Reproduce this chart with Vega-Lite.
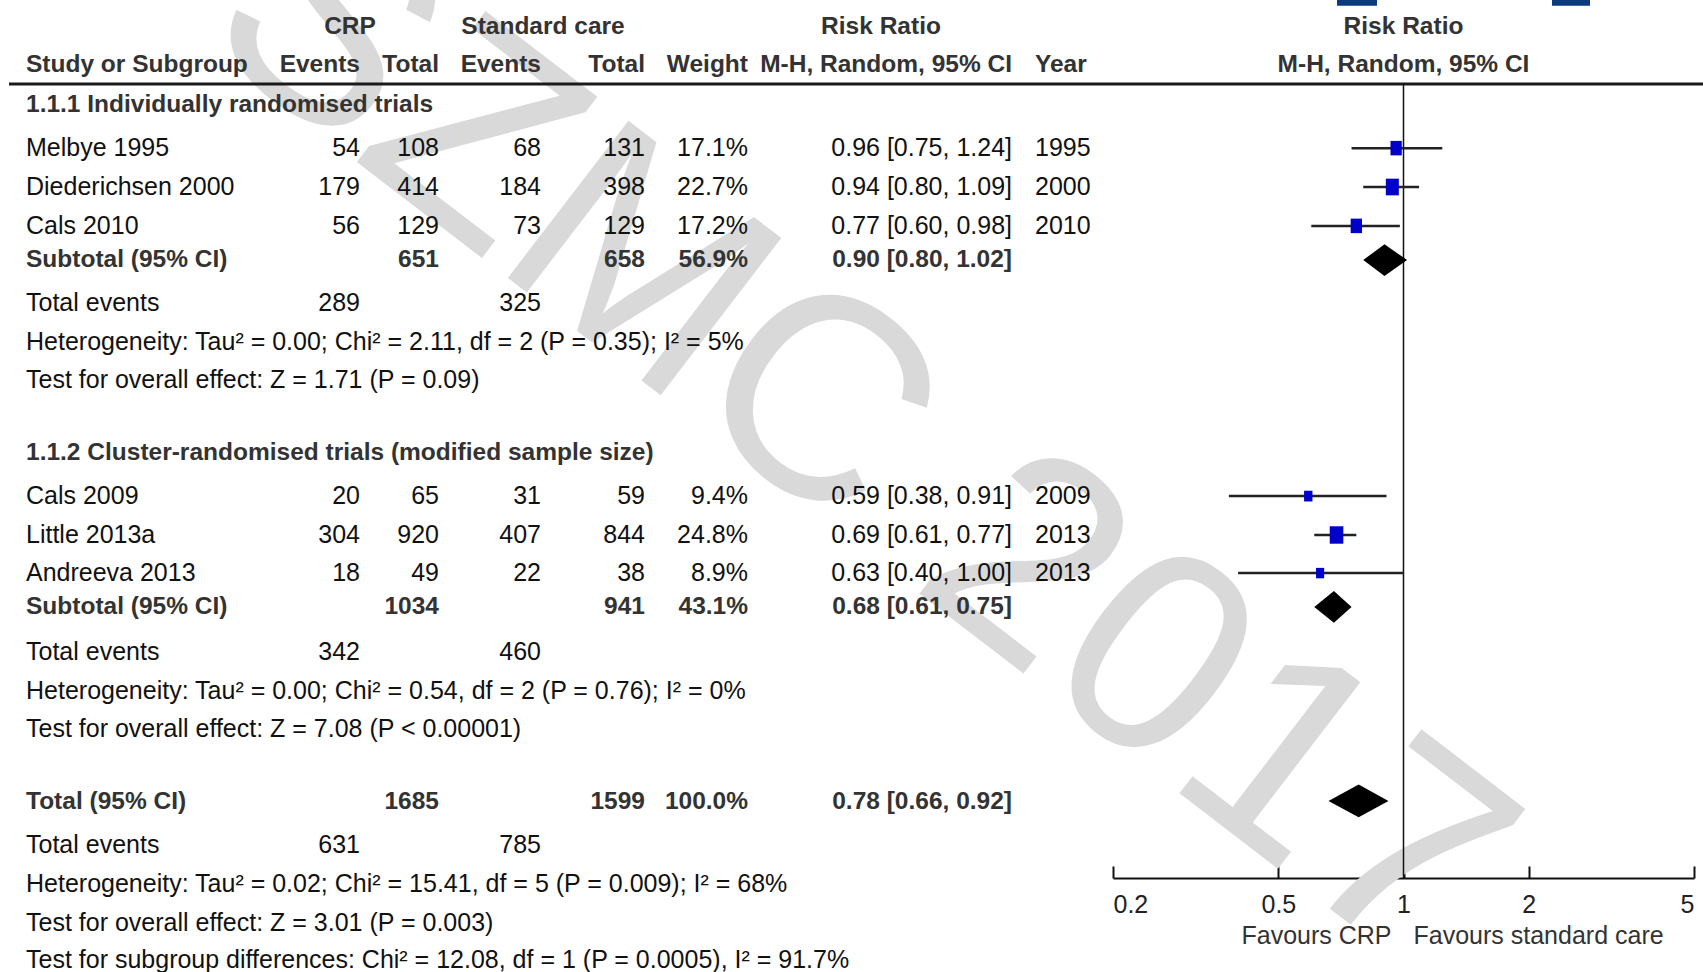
{
  "$schema": "https://vega.github.io/schema/vega-lite/v6.json",
  "width": 1703,
  "height": 972,
  "padding": 0,
  "autosize": {"type": "none"},
  "background": "white",
  "config": {
    "view": {"stroke": null},
    "font": "Liberation Sans, Arial, sans-serif"
  },
  "datasets": {
    "rows": [
      {"row": 1.67, "kind": "header", "label": "Study or Subgroup", "e1": "Events", "n1": "Total", "e2": "Events", "n2": "Total", "w": "Weight", "rrtxt": "M-H, Random, 95% CI", "year": "Year"},
      {"row": 2.70, "kind": "group", "label": "1.1.1 Individually randomised trials"},
      {"row": 3.81, "kind": "study", "label": "Melbye 1995", "e1": "54", "n1": "108", "e2": "68", "n2": "131", "w": "17.1%", "rrtxt": "0.96 [0.75, 1.24]", "year": "1995", "rr": 0.96, "lo": 0.75, "hi": 1.24, "weight": 17.1},
      {"row": 4.81, "kind": "study", "label": "Diederichsen 2000", "e1": "179", "n1": "414", "e2": "184", "n2": "398", "w": "22.7%", "rrtxt": "0.94 [0.80, 1.09]", "year": "2000", "rr": 0.94, "lo": 0.80, "hi": 1.09, "weight": 22.7},
      {"row": 5.81, "kind": "study", "label": "Cals 2010", "e1": "56", "n1": "129", "e2": "73", "n2": "129", "w": "17.2%", "rrtxt": "0.77 [0.60, 0.98]", "year": "2010", "rr": 0.77, "lo": 0.60, "hi": 0.98, "weight": 17.2},
      {"row": 6.69, "kind": "subtotal", "label": "Subtotal (95% CI)", "n1": "651", "n2": "658", "w": "56.9%", "rrtxt": "0.90 [0.80, 1.02]"},
      {"row": 7.79, "kind": "events", "label": "Total events", "e1": "289", "e2": "325"},
      {"row": 8.80, "kind": "stat", "label": "Heterogeneity: Tau² = 0.00; Chi² = 2.11, df = 2 (P = 0.35); I² = 5%"},
      {"row": 9.77, "kind": "stat", "label": "Test for overall effect: Z = 1.71 (P = 0.09)"},
      {"row": 11.65, "kind": "group", "label": "1.1.2 Cluster-randomised trials (modified sample size)"},
      {"row": 12.76, "kind": "study", "label": "Cals 2009", "e1": "20", "n1": "65", "e2": "31", "n2": "59", "w": "9.4%", "rrtxt": "0.59 [0.38, 0.91]", "year": "2009", "rr": 0.59, "lo": 0.38, "hi": 0.91, "weight": 9.4},
      {"row": 13.76, "kind": "study", "label": "Little 2013a", "e1": "304", "n1": "920", "e2": "407", "n2": "844", "w": "24.8%", "rrtxt": "0.69 [0.61, 0.77]", "year": "2013", "rr": 0.69, "lo": 0.61, "hi": 0.77, "weight": 24.8},
      {"row": 14.74, "kind": "study", "label": "Andreeva 2013", "e1": "18", "n1": "49", "e2": "22", "n2": "38", "w": "8.9%", "rrtxt": "0.63 [0.40, 1.00]", "year": "2013", "rr": 0.63, "lo": 0.40, "hi": 1.00, "weight": 8.9},
      {"row": 15.61, "kind": "subtotal", "label": "Subtotal (95% CI)", "n1": "1034", "n2": "941", "w": "43.1%", "rrtxt": "0.68 [0.61, 0.75]"},
      {"row": 16.77, "kind": "events", "label": "Total events", "e1": "342", "e2": "460"},
      {"row": 17.77, "kind": "stat", "label": "Heterogeneity: Tau² = 0.00; Chi² = 0.54, df = 2 (P = 0.76); I² = 0%"},
      {"row": 18.75, "kind": "stat", "label": "Test for overall effect: Z = 7.08 (P < 0.00001)"},
      {"row": 20.63, "kind": "total", "label": "Total (95% CI)", "n1": "1685", "n2": "1599", "w": "100.0%", "rrtxt": "0.78 [0.66, 0.92]"},
      {"row": 21.73, "kind": "events", "label": "Total events", "e1": "631", "e2": "785"},
      {"row": 22.74, "kind": "stat", "label": "Heterogeneity: Tau² = 0.02; Chi² = 15.41, df = 5 (P = 0.009); I² = 68%"},
      {"row": 23.74, "kind": "stat", "label": "Test for overall effect: Z = 3.01 (P = 0.003)"},
      {"row": 24.69, "kind": "stat", "label": "Test for subgroup differences: Chi² = 12.08, df = 1 (P = 0.0005), I² = 91.7%"}
    ],
    "diamonds": [
      {"id": "sub1", "rr": 0.80, "top": 6.69, "bottom": 6.69},
      {"id": "sub1", "rr": 0.90, "top": 6.28, "bottom": 7.10},
      {"id": "sub1", "rr": 1.02, "top": 6.69, "bottom": 6.69},
      {"id": "sub2", "rr": 0.61, "top": 15.61, "bottom": 15.61},
      {"id": "sub2", "rr": 0.68, "top": 15.20, "bottom": 16.02},
      {"id": "sub2", "rr": 0.75, "top": 15.61, "bottom": 15.61},
      {"id": "total", "rr": 0.66, "top": 20.60, "bottom": 20.60},
      {"id": "total", "rr": 0.78, "top": 20.18, "bottom": 21.02},
      {"id": "total", "rr": 0.92, "top": 20.60, "bottom": 20.60}
    ],
    "spans": [
      {"grp": "crp", "text": "CRP"},
      {"grp": "std", "text": "Standard care"},
      {"grp": "rr", "text": "Risk Ratio"}
    ],
    "plothdr": [
      {"row": 0.69, "text": "Risk Ratio"},
      {"row": 1.67, "text": "M-H, Random, 95% CI"}
    ],
    "favours": [
      {"side": "left", "text": "Favours CRP"},
      {"side": "right", "text": "Favours standard care"}
    ],
    "watermark": [
      {"text": "SZMC 2017"}
    ],
    "one": [{}]
  },
  "resolve": {"scale": {"x": "independent"}, "axis": {"x": "independent"}},
  "layer": [
    {
      "data": {"name": "watermark"},
      "mark": {"type": "text", "align": "center", "baseline": "middle", "angle": 37.5, "fontSize": 288, "font": "Liberation Sans, Arial, sans-serif", "fill": "#d9d9d9"},
      "encoding": {
        "x": {"datum": 859, "type": "quantitative", "scale": {"domain": [0, 1703], "range": [0, 1703], "nice": false, "zero": false}, "axis": null},
        "y": {"datum": 11.29, "type": "quantitative", "scale": {"domain": [0, 25], "reverse": true, "nice": false, "zero": false}, "axis": null},
        "text": {"field": "text", "type": "nominal"}
      }
    },
    {
      "data": {"name": "one"},
      "mark": {"type": "rule", "color": "#1a1a1a", "strokeWidth": 3},
      "encoding": {
        "x": {"datum": 9, "type": "quantitative", "scale": {"domain": [0, 1703], "range": [0, 1703], "nice": false, "zero": false}, "axis": null},
        "x2": {"datum": 1703},
        "y": {"datum": 2.16, "type": "quantitative", "scale": {"domain": [0, 25], "reverse": true, "nice": false, "zero": false}, "axis": null}
      }
    },
    {
      "data": {"name": "one"},
      "mark": {"type": "rect", "color": "#0b3a7e"},
      "encoding": {
        "x": {"datum": 1337, "type": "quantitative", "scale": {"domain": [0, 1703], "range": [0, 1703], "nice": false, "zero": false}, "axis": null},
        "x2": {"datum": 1377},
        "y": {"datum": 0, "type": "quantitative", "scale": {"domain": [0, 25], "reverse": true, "nice": false, "zero": false}, "axis": null},
        "y2": {"datum": 0.15}
      }
    },
    {
      "data": {"name": "one"},
      "mark": {"type": "rect", "color": "#0b3a7e"},
      "encoding": {
        "x": {"datum": 1552, "type": "quantitative", "scale": {"domain": [0, 1703], "range": [0, 1703], "nice": false, "zero": false}, "axis": null},
        "x2": {"datum": 1590},
        "y": {"datum": 0, "type": "quantitative", "scale": {"domain": [0, 25], "reverse": true, "nice": false, "zero": false}, "axis": null},
        "y2": {"datum": 0.15}
      }
    },
    {
      "data": {"name": "spans"},
      "transform": [{"filter": "datum.grp === 'crp'"}],
      "mark": {"type": "text", "align": "center", "baseline": "middle", "fontSize": 24.5, "fontWeight": "bold", "fill": "#333"},
      "encoding": {
        "x": {"datum": 350, "type": "quantitative", "scale": {"domain": [0, 1703], "range": [0, 1703], "nice": false, "zero": false}, "axis": null},
        "y": {"datum": 0.69, "type": "quantitative", "scale": {"domain": [0, 25], "reverse": true, "nice": false, "zero": false}, "axis": null},
        "text": {"field": "text", "type": "nominal"}
      }
    },
    {
      "data": {"name": "spans"},
      "transform": [{"filter": "datum.grp === 'std'"}],
      "mark": {"type": "text", "align": "center", "baseline": "middle", "fontSize": 24.5, "fontWeight": "bold", "fill": "#333"},
      "encoding": {
        "x": {"datum": 543, "type": "quantitative", "scale": {"domain": [0, 1703], "range": [0, 1703], "nice": false, "zero": false}, "axis": null},
        "y": {"datum": 0.69, "type": "quantitative", "scale": {"domain": [0, 25], "reverse": true, "nice": false, "zero": false}, "axis": null},
        "text": {"field": "text", "type": "nominal"}
      }
    },
    {
      "data": {"name": "spans"},
      "transform": [{"filter": "datum.grp === 'rr'"}],
      "mark": {"type": "text", "align": "center", "baseline": "middle", "fontSize": 24.5, "fontWeight": "bold", "fill": "#333"},
      "encoding": {
        "x": {"datum": 881, "type": "quantitative", "scale": {"domain": [0, 1703], "range": [0, 1703], "nice": false, "zero": false}, "axis": null},
        "y": {"datum": 0.69, "type": "quantitative", "scale": {"domain": [0, 25], "reverse": true, "nice": false, "zero": false}, "axis": null},
        "text": {"field": "text", "type": "nominal"}
      }
    },
    {
      "data": {"name": "rows"},
      "mark": {"type": "text", "align": "left", "baseline": "middle",
        "fontSize": {"expr": "indexof(['header','group','subtotal','total'], datum.kind) >= 0 ? 24.5 : 25"},
        "fontWeight": {"expr": "indexof(['header','group','subtotal','total'], datum.kind) >= 0 ? 'bold' : 'normal'"},
        "fill": {"expr": "indexof(['header','group','subtotal','total'], datum.kind) >= 0 ? '#333' : '#111'"}},
      "encoding": {
        "x": {"datum": 26, "type": "quantitative", "scale": {"domain": [0, 1703], "range": [0, 1703], "nice": false, "zero": false}, "axis": null},
        "y": {"field": "row", "type": "quantitative", "scale": {"domain": [0, 25], "reverse": true, "nice": false, "zero": false}, "axis": null},
        "text": {"field": "label", "type": "nominal"}
      }
    },
    {
      "data": {"name": "rows"},
      "transform": [{"filter": "isValid(datum.e1)"}],
      "mark": {"type": "text", "align": "right", "baseline": "middle",
        "fontSize": {"expr": "indexof(['header','group','subtotal','total'], datum.kind) >= 0 ? 24.5 : 25"},
        "fontWeight": {"expr": "indexof(['header','group','subtotal','total'], datum.kind) >= 0 ? 'bold' : 'normal'"},
        "fill": {"expr": "indexof(['header','group','subtotal','total'], datum.kind) >= 0 ? '#333' : '#111'"}},
      "encoding": {
        "x": {"datum": 360, "type": "quantitative", "scale": {"domain": [0, 1703], "range": [0, 1703], "nice": false, "zero": false}, "axis": null},
        "y": {"field": "row", "type": "quantitative", "scale": {"domain": [0, 25], "reverse": true, "nice": false, "zero": false}, "axis": null},
        "text": {"field": "e1", "type": "nominal"}
      }
    },
    {
      "data": {"name": "rows"},
      "transform": [{"filter": "isValid(datum.n1)"}],
      "mark": {"type": "text", "align": "right", "baseline": "middle",
        "fontSize": {"expr": "indexof(['header','group','subtotal','total'], datum.kind) >= 0 ? 24.5 : 25"},
        "fontWeight": {"expr": "indexof(['header','group','subtotal','total'], datum.kind) >= 0 ? 'bold' : 'normal'"},
        "fill": {"expr": "indexof(['header','group','subtotal','total'], datum.kind) >= 0 ? '#333' : '#111'"}},
      "encoding": {
        "x": {"datum": 439, "type": "quantitative", "scale": {"domain": [0, 1703], "range": [0, 1703], "nice": false, "zero": false}, "axis": null},
        "y": {"field": "row", "type": "quantitative", "scale": {"domain": [0, 25], "reverse": true, "nice": false, "zero": false}, "axis": null},
        "text": {"field": "n1", "type": "nominal"}
      }
    },
    {
      "data": {"name": "rows"},
      "transform": [{"filter": "isValid(datum.e2)"}],
      "mark": {"type": "text", "align": "right", "baseline": "middle",
        "fontSize": {"expr": "indexof(['header','group','subtotal','total'], datum.kind) >= 0 ? 24.5 : 25"},
        "fontWeight": {"expr": "indexof(['header','group','subtotal','total'], datum.kind) >= 0 ? 'bold' : 'normal'"},
        "fill": {"expr": "indexof(['header','group','subtotal','total'], datum.kind) >= 0 ? '#333' : '#111'"}},
      "encoding": {
        "x": {"datum": 541, "type": "quantitative", "scale": {"domain": [0, 1703], "range": [0, 1703], "nice": false, "zero": false}, "axis": null},
        "y": {"field": "row", "type": "quantitative", "scale": {"domain": [0, 25], "reverse": true, "nice": false, "zero": false}, "axis": null},
        "text": {"field": "e2", "type": "nominal"}
      }
    },
    {
      "data": {"name": "rows"},
      "transform": [{"filter": "isValid(datum.n2)"}],
      "mark": {"type": "text", "align": "right", "baseline": "middle",
        "fontSize": {"expr": "indexof(['header','group','subtotal','total'], datum.kind) >= 0 ? 24.5 : 25"},
        "fontWeight": {"expr": "indexof(['header','group','subtotal','total'], datum.kind) >= 0 ? 'bold' : 'normal'"},
        "fill": {"expr": "indexof(['header','group','subtotal','total'], datum.kind) >= 0 ? '#333' : '#111'"}},
      "encoding": {
        "x": {"datum": 645, "type": "quantitative", "scale": {"domain": [0, 1703], "range": [0, 1703], "nice": false, "zero": false}, "axis": null},
        "y": {"field": "row", "type": "quantitative", "scale": {"domain": [0, 25], "reverse": true, "nice": false, "zero": false}, "axis": null},
        "text": {"field": "n2", "type": "nominal"}
      }
    },
    {
      "data": {"name": "rows"},
      "transform": [{"filter": "isValid(datum.w)"}],
      "mark": {"type": "text", "align": "right", "baseline": "middle",
        "fontSize": {"expr": "indexof(['header','group','subtotal','total'], datum.kind) >= 0 ? 24.5 : 25"},
        "fontWeight": {"expr": "indexof(['header','group','subtotal','total'], datum.kind) >= 0 ? 'bold' : 'normal'"},
        "fill": {"expr": "indexof(['header','group','subtotal','total'], datum.kind) >= 0 ? '#333' : '#111'"}},
      "encoding": {
        "x": {"datum": 748, "type": "quantitative", "scale": {"domain": [0, 1703], "range": [0, 1703], "nice": false, "zero": false}, "axis": null},
        "y": {"field": "row", "type": "quantitative", "scale": {"domain": [0, 25], "reverse": true, "nice": false, "zero": false}, "axis": null},
        "text": {"field": "w", "type": "nominal"}
      }
    },
    {
      "data": {"name": "rows"},
      "transform": [{"filter": "isValid(datum.rrtxt)"}],
      "mark": {"type": "text", "align": "right", "baseline": "middle",
        "fontSize": {"expr": "indexof(['header','group','subtotal','total'], datum.kind) >= 0 ? 24.5 : 25"},
        "fontWeight": {"expr": "indexof(['header','group','subtotal','total'], datum.kind) >= 0 ? 'bold' : 'normal'"},
        "fill": {"expr": "indexof(['header','group','subtotal','total'], datum.kind) >= 0 ? '#333' : '#111'"}},
      "encoding": {
        "x": {"datum": 1012, "type": "quantitative", "scale": {"domain": [0, 1703], "range": [0, 1703], "nice": false, "zero": false}, "axis": null},
        "y": {"field": "row", "type": "quantitative", "scale": {"domain": [0, 25], "reverse": true, "nice": false, "zero": false}, "axis": null},
        "text": {"field": "rrtxt", "type": "nominal"}
      }
    },
    {
      "data": {"name": "rows"},
      "transform": [{"filter": "isValid(datum.year)"}],
      "mark": {"type": "text", "align": "left", "baseline": "middle",
        "fontSize": {"expr": "indexof(['header','group','subtotal','total'], datum.kind) >= 0 ? 24.5 : 25"},
        "fontWeight": {"expr": "indexof(['header','group','subtotal','total'], datum.kind) >= 0 ? 'bold' : 'normal'"},
        "fill": {"expr": "indexof(['header','group','subtotal','total'], datum.kind) >= 0 ? '#333' : '#111'"}},
      "encoding": {
        "x": {"datum": 1035, "type": "quantitative", "scale": {"domain": [0, 1703], "range": [0, 1703], "nice": false, "zero": false}, "axis": null},
        "y": {"field": "row", "type": "quantitative", "scale": {"domain": [0, 25], "reverse": true, "nice": false, "zero": false}, "axis": null},
        "text": {"field": "year", "type": "nominal"}
      }
    },
    {
      "data": {"name": "one"},
      "mark": {"type": "rule", "color": "#111", "strokeWidth": 1.5},
      "encoding": {
        "x": {"datum": 1, "type": "quantitative", "scale": {"type": "log", "domain": [0.2, 5], "range": [1113, 1694], "nice": false}, "axis": null},
        "y": {"datum": 2.16, "type": "quantitative", "scale": {"domain": [0, 25], "reverse": true, "nice": false, "zero": false}, "axis": null},
        "y2": {"datum": 22.58}
      }
    },
    {
      "data": {"name": "rows"},
      "transform": [{"filter": "isValid(datum.lo)"}],
      "mark": {"type": "rule", "color": "#222", "strokeWidth": 2.5},
      "encoding": {
        "x": {"field": "lo", "type": "quantitative", "scale": {"type": "log", "domain": [0.2, 5], "range": [1113, 1694], "nice": false},
          "axis": {"orient": "bottom", "offset": -94, "values": [0.2, 0.5, 1, 2, 5], "format": "~g", "title": null, "grid": false,
            "labelFlush": true, "labelFontSize": 25, "labelColor": "#222", "labelPadding": 26, "labelFont": "Liberation Sans, Arial, sans-serif",
            "tickSize": -12, "tickColor": "#111", "tickWidth": 2, "domainColor": "#111", "domainWidth": 2}},
        "x2": {"field": "hi"},
        "y": {"field": "row", "type": "quantitative", "scale": {"domain": [0, 25], "reverse": true, "nice": false, "zero": false}, "axis": null}
      }
    },
    {
      "data": {"name": "rows"},
      "transform": [{"filter": "isValid(datum.rr)"}],
      "mark": {"type": "point", "shape": "M-0.78,-1H0.78V1H-0.78Z", "filled": true, "color": "#0000cc", "opacity": 1, "strokeWidth": 0},
      "encoding": {
        "x": {"field": "rr", "type": "quantitative", "scale": {"type": "log", "domain": [0.2, 5], "range": [1113, 1694], "nice": false}, "axis": null},
        "y": {"field": "row", "type": "quantitative", "scale": {"domain": [0, 25], "reverse": true, "nice": false, "zero": false}, "axis": null},
        "size": {"field": "weight", "type": "quantitative", "scale": {"domain": [0, 25], "range": [0, 306]}, "legend": null}
      }
    },
    {
      "data": {"name": "diamonds"},
      "mark": {"type": "area", "color": "#000", "opacity": 1, "interpolate": "linear"},
      "encoding": {
        "x": {"field": "rr", "type": "quantitative", "scale": {"type": "log", "domain": [0.2, 5], "range": [1113, 1694], "nice": false}, "axis": null},
        "y": {"field": "top", "type": "quantitative", "scale": {"domain": [0, 25], "reverse": true, "nice": false, "zero": false}, "axis": null},
        "y2": {"field": "bottom"},
        "detail": {"field": "id", "type": "nominal"}
      }
    },
    {
      "data": {"name": "plothdr"},
      "mark": {"type": "text", "align": "center", "baseline": "middle", "fontSize": 24.5, "fontWeight": "bold", "fill": "#333"},
      "encoding": {
        "x": {"datum": 1, "type": "quantitative", "scale": {"type": "log", "domain": [0.2, 5], "range": [1113, 1694], "nice": false}, "axis": null},
        "y": {"field": "row", "type": "quantitative", "scale": {"domain": [0, 25], "reverse": true, "nice": false, "zero": false}, "axis": null},
        "text": {"field": "text", "type": "nominal"}
      }
    },
    {
      "data": {"name": "favours"},
      "transform": [{"filter": "datum.side === 'left'"}],
      "mark": {"type": "text", "align": "right", "baseline": "middle", "fontSize": 25, "fill": "#333", "dx": -12},
      "encoding": {
        "x": {"datum": 1, "type": "quantitative", "scale": {"type": "log", "domain": [0.2, 5], "range": [1113, 1694], "nice": false}, "axis": null},
        "y": {"datum": 24.07, "type": "quantitative", "scale": {"domain": [0, 25], "reverse": true, "nice": false, "zero": false}, "axis": null},
        "text": {"field": "text", "type": "nominal"}
      }
    },
    {
      "data": {"name": "favours"},
      "transform": [{"filter": "datum.side === 'right'"}],
      "mark": {"type": "text", "align": "left", "baseline": "middle", "fontSize": 25, "fill": "#333", "dx": 10},
      "encoding": {
        "x": {"datum": 1, "type": "quantitative", "scale": {"type": "log", "domain": [0.2, 5], "range": [1113, 1694], "nice": false}, "axis": null},
        "y": {"datum": 24.07, "type": "quantitative", "scale": {"domain": [0, 25], "reverse": true, "nice": false, "zero": false}, "axis": null},
        "text": {"field": "text", "type": "nominal"}
      }
    }
  ]
}
